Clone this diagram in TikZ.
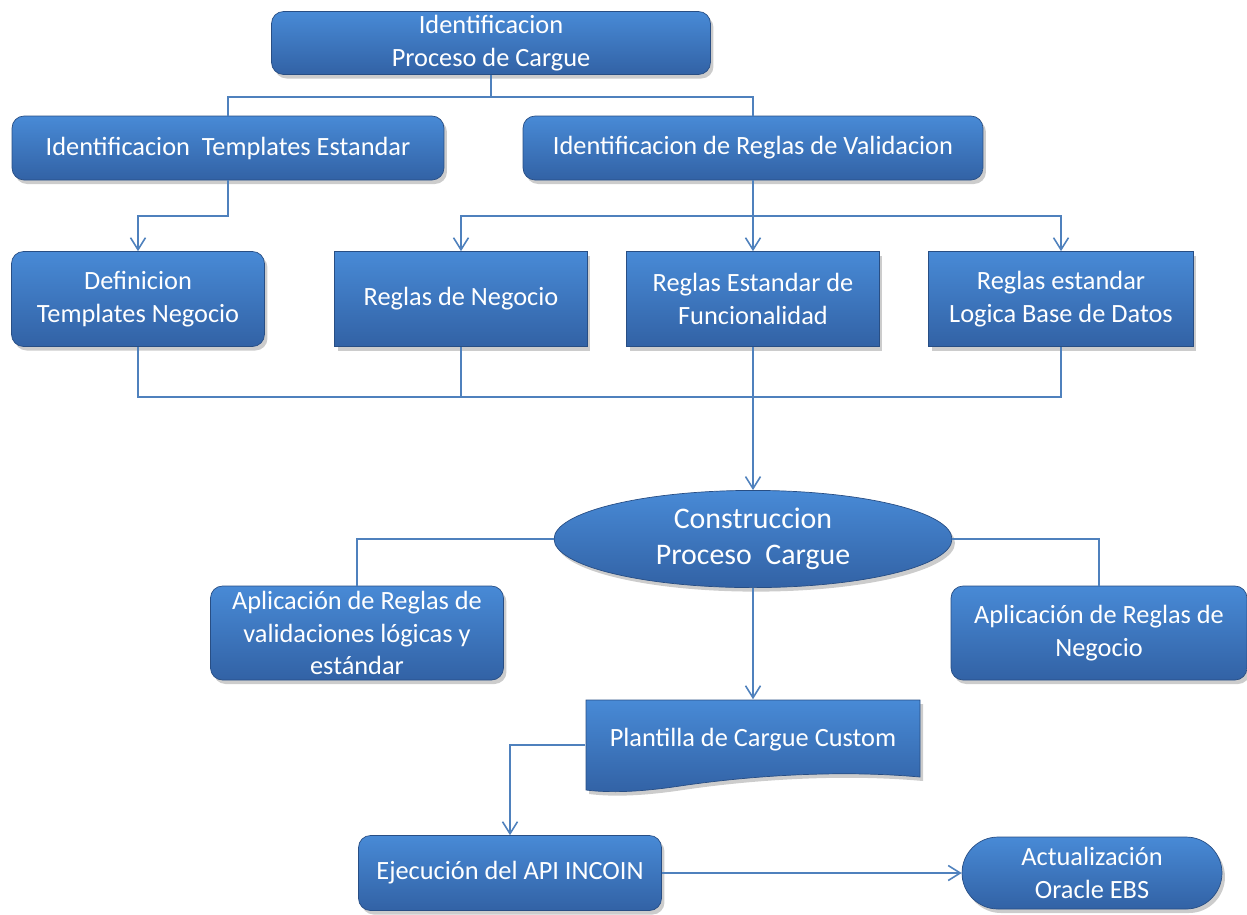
\documentclass[tikz,border=0pt]{standalone}
\usepackage{fontspec}
\setmainfont{Carlito}
\usetikzlibrary{shapes.geometric,shadows,arrows.meta}

\definecolor{boxtop}{RGB}{72,138,214}
\definecolor{boxbot}{RGB}{50,98,165}
\definecolor{linkblue}{RGB}{79,129,189}

\begin{document}
\begin{tikzpicture}[x=0.02cm,y=-0.02cm,draw=linkblue,line width=0.9pt,
    >={Straight Barb[length=0.24cm,width=0.3cm,line width=0.9pt]}]
    \tikzstyle{block}=[rectangle,top color=boxtop,bottom color=boxbot,
        draw=boxbot!80!black,line width=0.4pt,text=white,align=center,
        font=\fontsize{15}{18.5}\selectfont,inner sep=2pt,
        drop shadow={shadow xshift=0.06cm,shadow yshift=-0.08cm,opacity=0.4}]
    \tikzstyle{roundblock}=[block,rounded corners=0.24cm]
    \tikzstyle{annot}=[text=white,align=center,font=\fontsize{15}{18.5}\selectfont]
    \useasboundingbox (0,0) rectangle (1247,914);

    % Draw the identification layer
    \node[roundblock,minimum width=8.78cm,minimum height=1.26cm] (ident) at (491,43) {Identificacion\\Proceso de Cargue};
    \node[roundblock,minimum width=8.64cm,minimum height=1.28cm] (tmpl) at (228,148) {Identificacion\ \ Templates Estandar};
    \node[roundblock,minimum width=9.2cm,minimum height=1.28cm] (regval) at (753,148) {Identificacion de Reglas de Validacion};

    % Draw the rules layer
    \node[roundblock,minimum width=5.06cm,minimum height=1.9cm] (deftmpl) at (138,299) {Definicion\\Templates Negocio};
    \node[block,minimum width=5.06cm,minimum height=1.9cm] (negocio) at (461,299) {Reglas de Negocio};
    \node[block,minimum width=5.06cm,minimum height=1.9cm] (funcion) at (753,299) {Reglas Estandar de\\Funcionalidad};
    \node[block,minimum width=5.3cm,minimum height=1.9cm] (logica) at (1061,299) {Reglas estandar\\Logica Base de Datos};

    % Draw the construction node
    \node[block,ellipse,minimum width=7.96cm,minimum height=1.84cm,
        font=\fontsize{17}{20.5}\selectfont] (constr) at (753,539) {Construccion\\Proceso\ \ Cargue};
    \node[roundblock,minimum width=5.86cm,minimum height=1.88cm] (aplval) at (357,633) {Aplicación de Reglas de\\validaciones lógicas y\\estándar};
    \node[roundblock,minimum width=5.92cm,minimum height=1.88cm] (aplneg) at (1099,633) {Aplicación de Reglas de\\Negocio};

    % Draw the template (document shape)
    \shade[top color=boxtop,bottom color=boxbot,draw=boxbot!80!black,line width=0.4pt,
        drop shadow={shadow xshift=0.06cm,shadow yshift=-0.08cm,opacity=0.4}]
        (586,700) -- (920,700) -- (920,777) .. controls (820,768) and (720,780) .. (680,786)
        .. controls (640,792) and (610,793) .. (586,790) -- cycle;
    \node[annot,minimum width=6.68cm,minimum height=1.8cm] (plant) at (753,745) {};
    \node[annot] at (753,740) {Plantilla de Cargue Custom};

    % Draw the execution layer
    \node[roundblock,minimum width=6.06cm,minimum height=1.5cm] (ejec) at (510,873) {Ejecución del API INCOIN};
    \node[block,rounded corners=0.72cm,minimum width=5.2cm,minimum height=1.44cm] (actual) at (1092,873) {Actualización\\Oracle EBS};

    % Connect the identification boxes
    \coordinate (s1) at (491,97);
    \draw (ident.south) -- (s1);
    \foreach \dest in {tmpl,regval}
        \draw (s1) -| (\dest.north);
    \coordinate (s2) at (228,216);
    \draw[->] (tmpl.south) -- (s2) -| (deftmpl.north);
    \coordinate (s3) at (753,216);
    \draw (regval.south) -- (s3);
    \foreach \dest in {negocio,funcion,logica}
        \draw[->] (s3) -| (\dest.north);

    % Gather every rule into the construction node
    \coordinate (s4) at (753,397);
    \foreach \source in {deftmpl,negocio,funcion,logica}
        \draw (\source.south) |- (s4);
    \draw[->] (s4) -- (constr.north);

    % Connect the construction node
    \draw (constr.west) -| (aplval.north);
    \draw (constr.east) -| (aplneg.north);
    \draw[->] (constr.south) -- (plant.north);
    \draw[->] (plant.west) -| (ejec.north);
    \draw[->] (ejec.east) -- (actual.west);
\end{tikzpicture}
\end{document}
